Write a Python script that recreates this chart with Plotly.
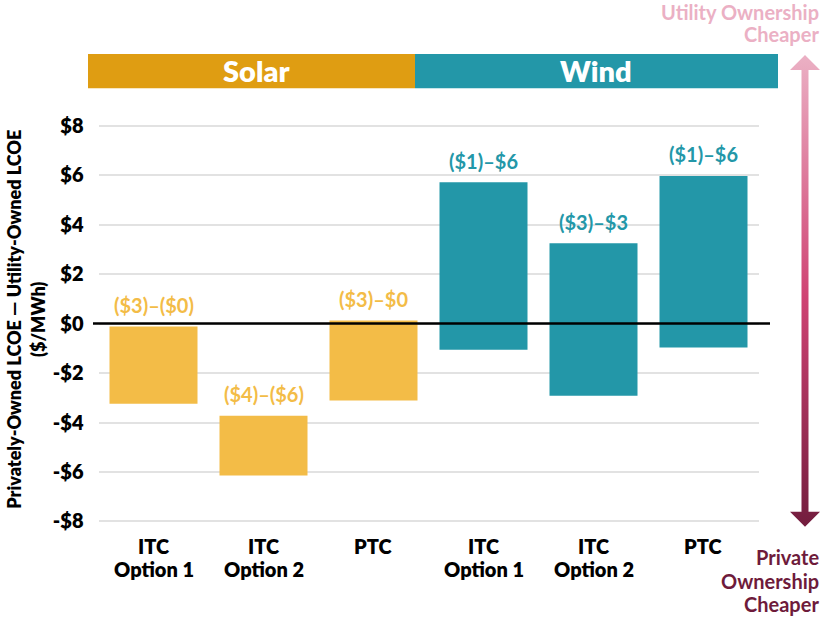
import plotly.graph_objects as go

# ---------------- data ----------------
cat_line1 = ["ITC", "ITC", "PTC", "ITC", "ITC", "PTC"]
cat_line2 = ["Option 1", "Option 2", "", "Option 1", "Option 2", ""]
technology = ["Solar", "Solar", "Solar", "Wind", "Wind", "Wind"]
range_low = [-3.24, -6.14, -3.11, -1.06, -2.92, -0.97]
range_high = [-0.12, -3.73, 0.12, 5.71, 3.25, 5.97]
range_labels = ["($3)–($0)", "($4)–($6)", "($3)–$0",
                "($1)–$6", "($3)–$3", "($1)–$6"]
tick_values = [-8, -6, -4, -2, 0, 2, 4, 6, 8]
tick_labels = ["-$8", "-$6", "-$4", "-$2", "$0", "$2", "$4", "$6", "$8"]

W, H = 826, 620
FONT = "Lato"
SOLAR_HDR = "#DF9D12"
SOLAR_BAR = "#F3BC47"
WIND = "#2397A8"
TOP_PINK = "#EBB0C4"
DARK_RED = "#6E1B3B"
HEAVY = 800

# vertical calibration of the photographed page (design px -> picture px)
VS, VO = 0.978, 8.0

bar_colors = {"Solar": SOLAR_BAR, "Wind": WIND}
positions = list(range(len(cat_line1)))

fig = go.Figure()

for tech in ["Solar", "Wind"]:
    idx = [i for i, t in enumerate(technology) if t == tech]
    fig.add_trace(go.Bar(
        x=idx,
        base=[range_low[i] for i in idx],
        y=[range_high[i] - range_low[i] for i in idx],
        width=0.8,
        marker=dict(color=bar_colors[tech], line=dict(width=0)),
        name=tech,
        showlegend=False,
        hoverinfo="skip",
    ))

def px_x(v):
    return v / W

def px_y(t):
    yd = (t - VO) / VS
    return 1 - yd / H

# range labels above bars
for i, lab in enumerate(range_labels):
    fig.add_annotation(
        x=i, y=range_high[i], xref="x", yref="y", text=lab,
        showarrow=False, yshift=21 / VS, yanchor="middle",
        font=dict(family=FONT, size=20, color=bar_colors[technology[i]], weight="bold"),
    )

# category labels (two lines)
for i in positions:
    for txt, yy in [(cat_line1[i], 546), (cat_line2[i], 569.5)]:
        if txt:
            fig.add_annotation(
                x=i, y=px_y(yy), xref="x", yref="paper", text=txt,
                showarrow=False, xanchor="center", yanchor="middle",
                font=dict(family=FONT, size=20, color="black", weight=HEAVY),
            )

# gradient arrow on a pixel overlay axis (placed right of the plot area)
ax_x = 805
arrow_x = [ax_x, ax_x + 15, ax_x + 3.5, ax_x + 3.5, ax_x + 15, ax_x,
           ax_x - 15, ax_x - 3.5, ax_x - 3.5, ax_x - 15, ax_x]
arrow_y = [55, 70, 70, 512, 512, 527, 512, 512, 70, 70, 55]
fig.add_trace(go.Scatter(
    x=arrow_x, y=arrow_y, xaxis="x2", yaxis="y2",
    mode="lines", line=dict(width=0, color="rgba(0,0,0,0)"),
    fill="toself",
    fillgradient=dict(type="vertical", start=527, stop=55,
                      colorscale=[[0, DARK_RED], [0.5, "#CF4373"], [1, TOP_PINK]]),
    showlegend=False, hoverinfo="skip",
))

shapes = [
    # header bands
    dict(type="rect", xref="paper", yref="paper", x0=px_x(88), x1=px_x(415),
         y0=px_y(88.3), y1=px_y(54), fillcolor=SOLAR_HDR, line=dict(width=0), layer="above"),
    dict(type="rect", xref="paper", yref="paper", x0=px_x(415), x1=px_x(778),
         y0=px_y(88.3), y1=px_y(54), fillcolor=WIND, line=dict(width=0), layer="above"),
    # zero line
    dict(type="line", xref="paper", yref="y", x0=px_x(93), x1=px_x(770), y0=0, y1=0,
         line=dict(color="#000000", width=2.5), layer="above"),
]

annotations = [
    dict(x=px_x(256), y=px_y(71), xref="paper", yref="paper", text="Solar",
         showarrow=False, xanchor="center", yanchor="middle",
         font=dict(family=FONT, size=29, color="white", weight=HEAVY)),
    dict(x=px_x(596), y=px_y(71), xref="paper", yref="paper", text="Wind",
         showarrow=False, xanchor="center", yanchor="middle",
         font=dict(family=FONT, size=29, color="white", weight=HEAVY)),
    dict(x=px_x(26), y=px_y(320), xref="paper", yref="paper",
         text="Privately-Owned LCOE — Utility-Owned LCOE<br>($/MWh)",
         textangle=-90, showarrow=False, xanchor="center", yanchor="middle",
         font=dict(family=FONT, size=18, color="black", weight=HEAVY)),
]
for txt, yy in [("Utility Ownership", 12), ("Cheaper", 34)]:
    annotations.append(dict(x=px_x(821), y=px_y(yy), xref="paper", yref="paper", text=txt,
                            showarrow=False, xanchor="right", yanchor="middle",
                            font=dict(family=FONT, size=20, color=TOP_PINK, weight="bold")))
for txt, yy in [("Private", 557), ("Ownership", 581), ("Cheaper", 604)]:
    annotations.append(dict(x=px_x(821), y=px_y(yy), xref="paper", yref="paper", text=txt,
                            showarrow=False, xanchor="right", yanchor="middle",
                            font=dict(family=FONT, size=20, color=DARK_RED, weight="bold")))

for a in annotations:
    fig.add_annotation(**a)

fig.update_layout(
    width=W, height=H,
    margin=dict(l=0, r=0, t=0, b=0),
    paper_bgcolor="white", plot_bgcolor="rgba(0,0,0,0)",
    barmode="overlay",
    shapes=shapes,
    font=dict(family=FONT, size=20, color="black", weight="bold"),
    xaxis=dict(
        domain=[px_x(98.5), px_x(758.5)],
        range=[-0.5, 5.5],
        tickvals=positions,
        showticklabels=False,
        showgrid=False, zeroline=False, showline=False,
        fixedrange=True,
    ),
    yaxis=dict(
        domain=[px_y(526.7), px_y(120.8)],
        range=[-8.2, 8.2],
        tickvals=tick_values,
        ticktext=tick_labels,
        showgrid=True, gridcolor="#E2E2E2", gridwidth=2,
        zeroline=False, showline=False,
        ticks="outside", ticklen=10, tickcolor="rgba(0,0,0,0)",
        tickfont=dict(family=FONT, size=20, color="black", weight=HEAVY),
        fixedrange=True,
    ),
    xaxis2=dict(domain=[px_x(780), 1], range=[780, W], visible=False, anchor="y2", fixedrange=True),
    yaxis2=dict(domain=[0, 1], range=[VS * H + VO, VO], visible=False, anchor="x2", fixedrange=True),
)

post = ("document.documentElement.style.margin='0';"
        "document.body.style.margin='0';"
        "document.body.style.padding='0';"
        "document.documentElement.style.overflow='hidden';"
        "document.body.style.overflow='hidden';"
        "var d=document.getElementById('{plot_id}');"
        "d.style.position='fixed';d.style.top='0px';d.style.left='0px';")
fig.write_html("out.html", config={"displayModeBar": False}, post_script=post)
